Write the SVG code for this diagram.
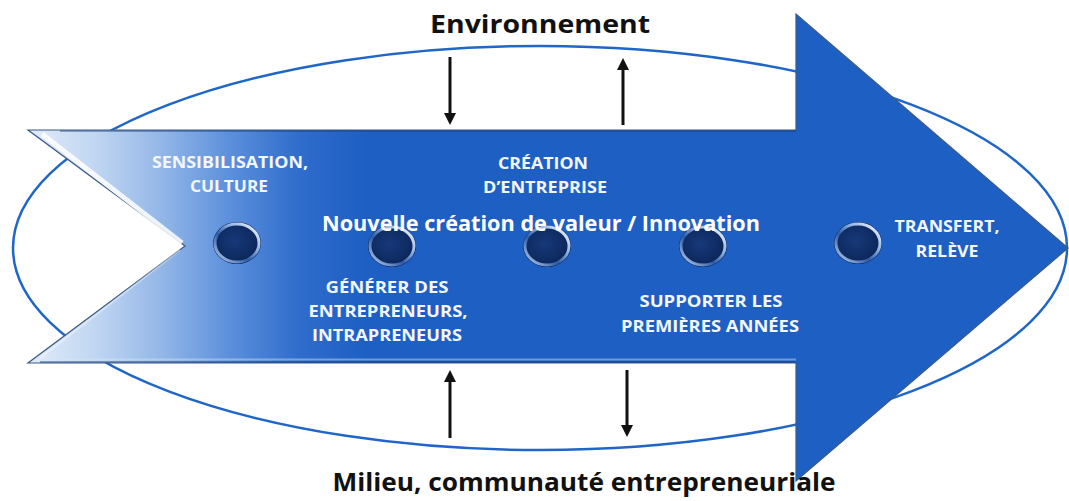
<svg xmlns="http://www.w3.org/2000/svg" width="1069" height="501" viewBox="0 0 1069 501">
  <style>
    .lbl { font-family: "Open Sans", "Liberation Sans", sans-serif; font-weight: 700; font-size: 16px; fill: #f3f6fb; text-anchor: middle; }
    .main { font-family: "Open Sans", "Liberation Sans", sans-serif; font-weight: 700; font-size: 21px; fill: #ffffff; text-anchor: middle; }
    .outer { font-family: "Open Sans", "Liberation Sans", sans-serif; font-weight: 700; font-size: 25px; fill: #111111; text-anchor: middle; }
    .conn { stroke: #111111; stroke-width: 3; fill: none; marker-end: url(#head); }
    .btn-base { fill: url(#btnFill); }
    .btn-ring { fill: none; stroke: url(#ringGrad); stroke-width: 3; }
  </style>
  <defs>
    <linearGradient id="arrowGrad" gradientUnits="userSpaceOnUse" x1="28" y1="0" x2="365" y2="0">
      <stop offset="0" stop-color="#e2ecf9"/>
      <stop offset="0.2" stop-color="#c0d6f2"/>
      <stop offset="0.4" stop-color="#92b6e7"/>
      <stop offset="0.6" stop-color="#5b8fdb"/>
      <stop offset="0.8" stop-color="#306dcc"/>
      <stop offset="1" stop-color="#1e5fc4"/>
    </linearGradient>
    <radialGradient id="btnFill" cx="0.45" cy="0.45" r="0.6">
      <stop offset="0" stop-color="#17397a"/>
      <stop offset="0.7" stop-color="#0e2a60"/>
      <stop offset="1" stop-color="#0a2152"/>
    </radialGradient>
    <linearGradient id="ringGrad" x1="1" y1="0" x2="0" y2="1">
      <stop offset="0" stop-color="#ffffff"/>
      <stop offset="0.35" stop-color="#8fb2e2"/>
      <stop offset="0.6" stop-color="#2b5aa6"/>
      <stop offset="1" stop-color="#c4d8f3"/>
    </linearGradient>
    <marker id="head" markerUnits="userSpaceOnUse" markerWidth="12" markerHeight="12" refX="2" refY="6" orient="auto">
      <path d="M0,0 L12,6 L0,12 z" fill="#111111"/>
    </marker>
  </defs>

  <rect width="1069" height="501" fill="#ffffff"/>

  <g id="milieu-ellipse">
    <ellipse cx="540" cy="248" rx="527" ry="202" fill="none" stroke="#1f66c8" stroke-width="2.5"/>
  </g>

  <g id="process-arrow">
    <path d="M28,130 L796,130 L796,14 L1068,248 L796,481 L796,363 L28,363 L185,246 Z" fill="url(#arrowGrad)" stroke="#3a5a86" stroke-width="1.2"/>
    <path d="M42,134 L182,243" stroke="#ffffff" stroke-width="5" opacity="0.85" fill="none"/>
    <path d="M40,358 L180,250" stroke="#ffffff" stroke-width="2" opacity="0.4" fill="none"/>
    <path d="M60,131 L796,131" stroke="#1a3f78" stroke-width="1.5" opacity="0.55"/>
    <path d="M48,359.5 L796,359.5" stroke="#d5e5f8" stroke-width="2" opacity="0.45"/>
    <path d="M40,362 L796,362" stroke="#1a3f78" stroke-width="1.5" opacity="0.6"/>
  </g>

  <g id="stage-sensibilisation">
    <ellipse class="btn-base" cx="237" cy="243" rx="24" ry="21"/>
    <ellipse class="btn-ring" cx="237" cy="243" rx="22" ry="19"/>
    <text class="lbl" x="230" y="168" textLength="156" lengthAdjust="spacingAndGlyphs">SENSIBILISATION,</text>
    <text class="lbl" x="229" y="192" textLength="78" lengthAdjust="spacingAndGlyphs">CULTURE</text>
  </g>

  <g id="stage-generer">
    <ellipse class="btn-base" cx="392" cy="246" rx="24" ry="21"/>
    <ellipse class="btn-ring" cx="392" cy="246" rx="22" ry="19"/>
    <text class="lbl" x="387" y="293" textLength="123" lengthAdjust="spacingAndGlyphs">GÉNÉRER DES</text>
    <text class="lbl" x="388" y="317" textLength="159" lengthAdjust="spacingAndGlyphs">ENTREPRENEURS,</text>
    <text class="lbl" x="387" y="341" textLength="150" lengthAdjust="spacingAndGlyphs">INTRAPRENEURS</text>
  </g>

  <g id="stage-creation">
    <ellipse class="btn-base" cx="547" cy="246" rx="24" ry="21"/>
    <ellipse class="btn-ring" cx="547" cy="246" rx="22" ry="19"/>
    <text class="lbl" x="543" y="169" textLength="90" lengthAdjust="spacingAndGlyphs">CRÉATION</text>
    <text class="lbl" x="545" y="193" textLength="124" lengthAdjust="spacingAndGlyphs">D’ENTREPRISE</text>
  </g>

  <g id="stage-supporter">
    <ellipse class="btn-base" cx="703" cy="246" rx="24" ry="21"/>
    <ellipse class="btn-ring" cx="703" cy="246" rx="22" ry="19"/>
    <text class="lbl" x="711" y="307" textLength="143" lengthAdjust="spacingAndGlyphs">SUPPORTER LES</text>
    <text class="lbl" x="710" y="332" textLength="178" lengthAdjust="spacingAndGlyphs">PREMIÈRES ANNÉES</text>
  </g>

  <g id="stage-transfert">
    <ellipse class="btn-base" cx="858" cy="243" rx="24" ry="21"/>
    <ellipse class="btn-ring" cx="858" cy="243" rx="22" ry="19"/>
    <text class="lbl" x="947" y="232" textLength="105" lengthAdjust="spacingAndGlyphs">TRANSFERT,</text>
    <text class="lbl" x="947" y="257" textLength="63" lengthAdjust="spacingAndGlyphs">RELÈVE</text>
  </g>

  <g id="main-label">
    <text class="main" x="541" y="231" textLength="438" lengthAdjust="spacingAndGlyphs">Nouvelle création de valeur / Innovation</text>
  </g>

  <g id="environnement">
    <text class="outer" x="540" y="33" textLength="220" lengthAdjust="spacingAndGlyphs">Environnement</text>
  </g>

  <g id="milieu">
    <text class="outer" x="584" y="491" textLength="503" lengthAdjust="spacingAndGlyphs">Milieu, communauté entrepreneuriale</text>
  </g>

  <g id="connectors">
    <line class="conn" x1="450" y1="57" x2="450" y2="115"/>
    <line class="conn" x1="623" y1="125" x2="623" y2="68"/>
    <line class="conn" x1="450" y1="438" x2="450" y2="380"/>
    <line class="conn" x1="627" y1="370" x2="627" y2="427"/>
  </g>
</svg>
